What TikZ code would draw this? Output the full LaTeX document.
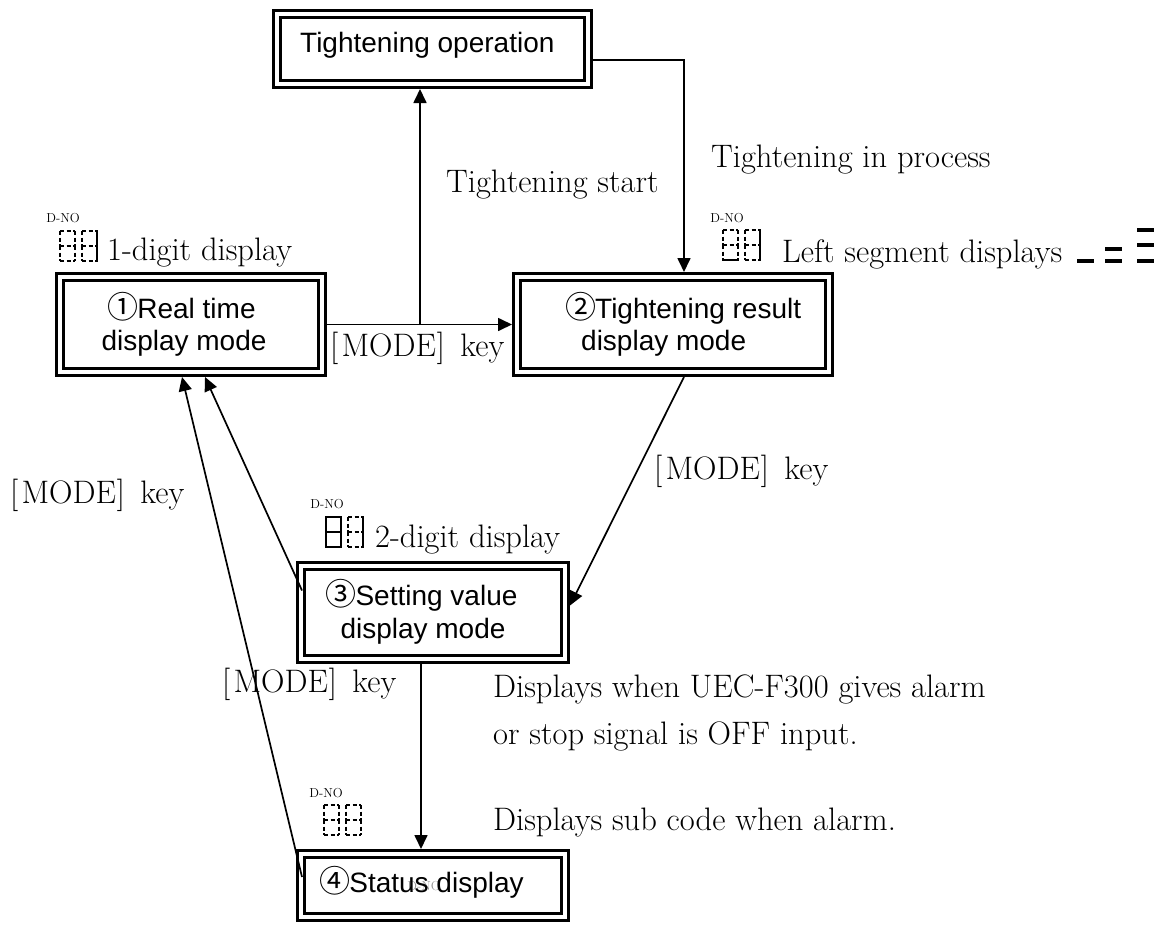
\documentclass[tikz,border=0pt]{standalone}
\usepackage{fontspec}
\usetikzlibrary{arrows.meta}
\newfontfamily\sansf{Liberation Sans}
\newfontfamily\circf{Noto Sans CJK JP}
\newcommand{\cdg}[1]{\makebox[29pt]{\circf\fontsize{31}{32}\selectfont #1}}
\newcommand{\modekey}{[\hspace{0.1em}MODE\hspace{0.03em}]\hspace{0.47em}key}
\newcommand{\sdig}[9]{%
 \draw[#3] (#1,#2) -- (#1+15,#2);
 \draw[#4] (#1+15,#2) -- (#1+15,#2+15);
 \draw[#5] (#1+15,#2+15) -- (#1+15,#2+30);
 \draw[#6] (#1,#2+30) -- (#1+15,#2+30);
 \draw[#7] (#1,#2+15) -- (#1,#2+30);
 \draw[#8] (#1,#2) -- (#1,#2+15);
 \draw[#9] (#1,#2+15) -- (#1+15,#2+15);}
\begin{document}
\begin{tikzpicture}[x=1pt,y=-1pt,
  box/.style={draw, double, line width=3.2pt, double distance=3.8pt, inner sep=0pt, outer sep=5.1pt},
  arr/.style={line width=1.7pt, -{Triangle[length=14pt,width=13pt]}},
  serif/.style={font=\fontsize{32.5}{38}\selectfont, inner sep=0pt, anchor=base west},
  sans/.style={font=\sansf\fontsize{28}{32}\selectfont, inner sep=0pt, anchor=base},
  dno/.style={font=\fontsize{13}{15}\selectfont, inner sep=0pt, anchor=base},
  sd/.style={line width=1.1pt, dash pattern=on 4pt off 2.5pt},
  ss/.style={line width=2.6pt, line cap=rect},
  bar/.style={line width=4pt}]
\useasboundingbox (0,0) rectangle (1165,929);
% boxes
\node[box, minimum width=310.8pt, minimum height=69.8pt] (b0) at (432.5,49) {};
\node[box, minimum width=261.8pt, minimum height=94.8pt] (b1) at (191,324.5) {};
\node[box, minimum width=311.8pt, minimum height=94.8pt] (b2) at (673,324.5) {};
\node[box, minimum width=263.8pt, minimum height=92.8pt] (b3) at (433,612.5) {};
\node[box, minimum width=263.8pt, minimum height=62.8pt] (b4) at (433,885.5) {};
% box texts
\node[sans, anchor=base west] (t0) at (300,52) {Tightening operation};
\node[sans] (t1a) at (182,318) {\cdg{①}Real time};
\node[sans] (t1b) at (184,350) {display mode};
\node[sans, anchor=base west] (t2a) at (566,318) {\cdg{②}Tightening result};
\node[sans, anchor=base west] (t2b) at (581,350) {display mode};
\node[sans] (t3a) at (422,605) {\cdg{③}Setting value};
\node[sans] (t3b) at (423,638) {display mode};
\node[dno, text=gray!85] (t4d) at (424,890) {D-NO};
\node[sans] (t4) at (422,892) {\cdg{④}Status display};
% connectors
\coordinate (j1) at (420,324.5);
\draw[arr] (b1.east) -- (b2.west);
\draw[arr] (j1) -- (j1 |- b0.south);
\draw[arr] ([yshift=-11pt]b0.east) -| ([xshift=11pt]b2.north);
\draw[arr] ([xshift=11pt]b2.south) -- ([yshift=7pt]b3.east);
\draw[arr] ([shift={(6pt,22pt)}]b3.west) -- ([xshift=14pt]b1.south);
\draw[arr] ([shift={(6pt,8.5pt)}]b4.west) -- ([xshift=-9pt]b1.south);
\draw[arr] ([xshift=-12pt]b3.south) -- ([xshift=-12pt]b4.north);
% labels
\node[serif] (l1) at (446,192) {Tightening start};
\node[serif] (l2) at (711,167) {Tightening in process};
\node[serif] (l3) at (330,356) {\modekey};
\node[serif] (l4) at (654,479) {\modekey};
\node[serif] (l5) at (10,503) {\modekey};
\node[serif] (l6) at (222,692) {\modekey};
\node[serif] (l7) at (493,697) {Displays when UEC-F300 gives alarm};
\node[serif] (l8) at (493,744) {or stop signal is OFF input.};
\node[serif] (l9) at (493,830) {Displays sub code when alarm.};
\node[serif] (d1) at (107,260) {1-digit display};
\node[serif] (d2) at (782,262) {Left segment displays};
\node[serif] (d3) at (375,547) {2-digit display};
% D-NO captions
\node[dno] (n1) at (63,222) {D-NO};
\node[dno] (n2) at (727,222) {D-NO};
\node[dno] (n3) at (327,508) {D-NO};
\node[dno] (n4) at (326,797) {D-NO};
% segment icons
\sdig{60}{231}{sd}{sd}{sd}{sd}{sd}{sd}{sd}
\sdig{82}{231}{sd}{ss}{ss}{sd}{sd}{sd}{sd}
\sdig{723}{230}{sd}{sd}{sd}{ss}{sd}{sd}{sd}
\sdig{745}{230}{sd}{ss}{ss}{sd}{sd}{sd}{sd}
\sdig{326}{517}{ss}{ss}{ss}{ss}{ss}{ss}{ss}
\sdig{348}{517}{sd}{ss}{ss}{sd}{sd}{sd}{sd}
\sdig{324}{805}{sd}{sd}{sd}{sd}{sd}{sd}{sd}
\sdig{346}{805}{sd}{sd}{sd}{sd}{sd}{sd}{sd}
% segment bars
\draw[bar] (1077,261) -- (1094,261);
\draw[bar] (1105,249) -- (1122,249);
\draw[bar] (1105,261) -- (1122,261);
\draw[bar] (1137,230) -- (1154,230);
\draw[bar] (1137,245) -- (1154,245);
\draw[bar] (1137,261) -- (1154,261);
\end{tikzpicture}
\end{document}
